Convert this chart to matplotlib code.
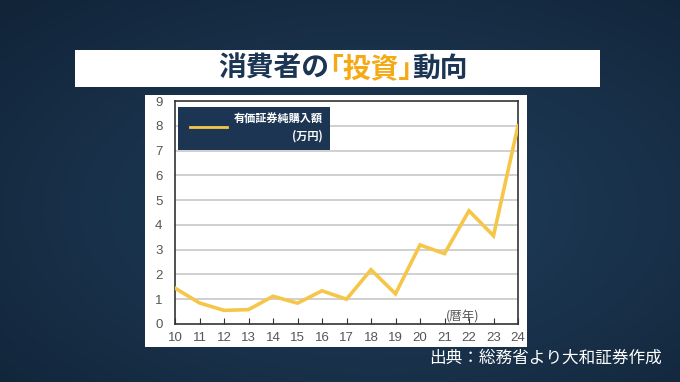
import matplotlib.pyplot as plt
import numpy as np
from matplotlib.patches import Rectangle
from matplotlib.lines import Line2D
from matplotlib.colors import LinearSegmentedColormap

plt.rcParams['font.family'] = ['Noto Sans CJK JP', 'DejaVu Sans']

years = [10, 11, 12, 13, 14, 15, 16, 17, 18, 19, 20, 21, 22, 23, 24]
purchases = [1.45, 0.85, 0.55, 0.58, 1.12, 0.84, 1.34, 1.0, 2.19, 1.22, 3.19, 2.84, 4.57, 3.56, 8.0]
yticks = [0, 1, 2, 3, 4, 5, 6, 7, 8, 9]

title_dark = '消費者の'
title_hl = '｢投資｣'
title_end = '動向'
legend_label = '有価証券純購入額\n(万円)'
source = '出典：総務省より大和証券作成'

navy = '#1b3553'
line_col = '#f6c649'

fig = plt.figure(figsize=(6.8, 3.82), dpi=100)

# background gradient
bg = fig.add_axes([0, 0, 1, 1], zorder=-10)
yy, xx = np.mgrid[0:1:200j, 0:1:350j]
r = np.sqrt((xx - 0.55) ** 2 + (yy - 0.45) ** 2)
bg.imshow(r, cmap=LinearSegmentedColormap.from_list('b', ['#213f5d', '#112438']),
          extent=[0, 1, 0, 1], aspect='auto', origin='lower')
bg.set_axis_off()

# title box
fig.patches.append(Rectangle((75 / 680, 1 - 87 / 382), 525 / 680, 37 / 382,
                             transform=fig.transFigure, facecolor='white', edgecolor='none', zorder=-5))

# title in three colours, centred as one line
parts = [(title_dark, navy), (title_hl, '#f5a915'), (title_end, navy)]
texts = [fig.text(0, 1 - 69 / 382, p, fontsize=20, fontweight='bold', color=c, ha='left', va='center')
         for p, c in parts]
fig.canvas.draw()
widths = [t.get_window_extent().width for t in texts]
x = 343 - sum(widths) / 2
for t, w in zip(texts, widths):
    t.set_x(x / 680)
    x += w

# white chart panel
fig.patches.append(Rectangle((145 / 680, 1 - 347 / 382), 382 / 680, 252 / 382,
                             transform=fig.transFigure, facecolor='white', edgecolor='none', zorder=-5))

ax = fig.add_axes([175 / 680, 1 - 324 / 382, 343 / 680, 223 / 382])
ax.set_facecolor('white')
ax.plot(years, purchases, color=line_col, linewidth=2.6, zorder=3, solid_joinstyle='miter')
ax.set_xlim(10, 24)
ax.set_ylim(0, 9)
ax.set_xticks(years)
ax.set_yticks(yticks)
for v in yticks[1:-1]:
    ax.axhline(v, color='#c8c8c8', linewidth=1.2, zorder=1)
for s in ax.spines.values():
    s.set_color('#333333')
    s.set_linewidth(1.2)
ax.tick_params(axis='x', direction='in', length=4, color='#333333', labelsize=9.5, labelcolor='#555555', pad=6)
ax.tick_params(axis='y', length=0, labelsize=9.5, labelcolor='#555555', pad=9)
for lab in ax.get_xticklabels() + ax.get_yticklabels():
    lab.set_fontfamily('Liberation Sans')

# legend block
ax.add_patch(Rectangle((0.009, 0.78), 0.443, 0.195, transform=ax.transAxes,
                       facecolor=navy, edgecolor='none', zorder=4))
ax.add_line(Line2D([0.045, 0.152], [0.885, 0.885], transform=ax.transAxes,
                   color=line_col, linewidth=2, zorder=5))
leg_txt = ax.text(0.43, 0.88, legend_label, transform=ax.transAxes, color='white', fontsize=8,
                  fontweight='bold', ha='right', va='center', zorder=5, linespacing=1.3)
leg_txt.set_multialignment('right')

ax.text(21.75, 0.3, '(暦年)', color='#555555', fontsize=9, ha='center', va='center')

fig.text(662 / 680, 1 - 358 / 382, source, color='white', fontsize=12, ha='right', va='center')

plt.savefig('out.png', dpi=100)
